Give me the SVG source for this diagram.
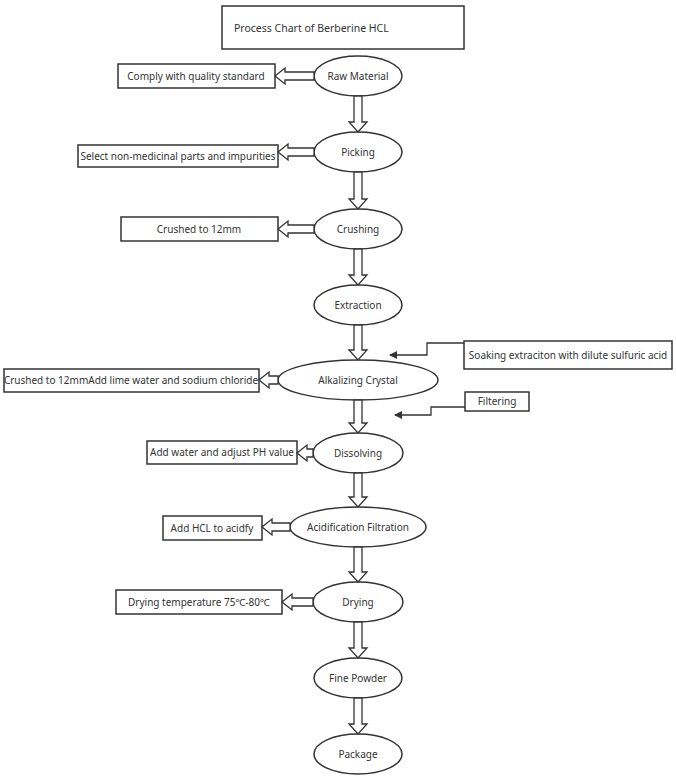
<svg xmlns="http://www.w3.org/2000/svg" width="676" height="779" viewBox="0 0 676 779">
<style>
text{font-family:"Noto Sans","Liberation Sans",sans-serif;font-size:10px;fill:#333}
.c{text-anchor:middle}
.n{fill:#fff;stroke:#333;stroke-width:1.5}
.a{fill:#fff;stroke:#333;stroke-width:1.3}
.l{fill:none;stroke:#333;stroke-width:1.3}
</style>
<defs><marker id="m" markerWidth="8" markerHeight="8" refX="7" refY="4" orient="auto" markerUnits="userSpaceOnUse"><path d="M0,0 L8,4 L0,8Z" fill="#333"/></marker></defs>
<rect width="676" height="779" fill="#fff"/>
<g id="title"><rect class="n" x="222" y="6" width="242" height="43"/><text x="234" y="32" style="font-size:10.5px">Process Chart of Berberine HCL</text></g>
<g id="raw"><ellipse class="n" cx="358" cy="76" rx="44" ry="20"/><text class="c" x="358" y="80">Raw Material</text></g>
<g id="n1"><rect class="n" x="118" y="64" width="157" height="24"/><text class="c" x="196" y="80">Comply with quality standard</text></g>
<g id="pick"><ellipse class="n" cx="358" cy="152" rx="44" ry="20"/><text class="c" x="358" y="156">Picking</text></g>
<g id="n2"><rect class="n" x="78" y="145" width="200" height="22"/><text class="c" x="178" y="160">Select non-medicinal parts and impurities</text></g>
<g id="crush"><ellipse class="n" cx="358" cy="229" rx="44" ry="20"/><text class="c" x="358" y="233">Crushing</text></g>
<g id="n3"><rect class="n" x="121" y="217" width="157" height="24"/><text class="c" x="199" y="233">Crushed to 12mm</text></g>
<g id="extr"><ellipse class="n" cx="358" cy="305" rx="44" ry="20"/><text class="c" x="358" y="309">Extraction</text></g>
<g id="alk"><ellipse class="n" cx="358" cy="380" rx="80" ry="20"/><text class="c" x="358" y="384">Alkalizing Crystal</text></g>
<g id="n4"><rect class="n" x="4" y="369" width="255" height="23"/><text class="c" x="131" y="384">Crushed to 12mmAdd lime water and sodium chloride</text></g>
<g id="soak"><rect class="n" x="464" y="341" width="208" height="28"/><text class="c" x="568" y="359">Soaking extraciton with dilute sulfuric acid</text></g>
<g id="filt"><rect class="n" x="465" y="392" width="64" height="19"/><text class="c" x="497" y="405">Filtering</text></g>
<g id="diss"><ellipse class="n" cx="358" cy="453" rx="45" ry="20"/><text class="c" x="358" y="457">Dissolving</text></g>
<g id="n5"><rect class="n" x="147" y="441" width="150" height="23"/><text class="c" x="222" y="456">Add water and adjust PH value</text></g>
<g id="acid"><ellipse class="n" cx="358" cy="527" rx="68" ry="20"/><text class="c" x="358" y="531">Acidification Filtration</text></g>
<g id="n6"><rect class="n" x="163" y="516" width="99" height="24"/><text class="c" x="212" y="532">Add HCL to acidfy</text></g>
<g id="dry"><ellipse class="n" cx="358" cy="602" rx="45" ry="20"/><text class="c" x="358" y="606">Drying</text></g>
<g id="n7"><rect class="n" x="116" y="590" width="166" height="24"/><text class="c" x="199" y="606">Drying temperature 75℃-80℃</text></g>
<g id="fine"><ellipse class="n" cx="358" cy="678" rx="44" ry="20"/><text class="c" x="358" y="682">Fine Powder</text></g>
<g id="pack"><ellipse class="n" cx="358" cy="754" rx="44" ry="20"/><text class="c" x="358" y="758">Package</text></g>
<g id="connectors">
<polygon class="a" points="354,96 362,96 362,122 367,122 358,132 349,122 354,122"/>
<polygon class="a" points="354,172 362,172 362,199 367,199 358,209 349,199 354,199"/>
<polygon class="a" points="354,249 362,249 362,275 367,275 358,285 349,275 354,275"/>
<polygon class="a" points="354,325 362,325 362,350 367,350 358,360 349,350 354,350"/>
<polygon class="a" points="354,400 362,400 362,423 367,423 358,433 349,423 354,423"/>
<polygon class="a" points="354,473 362,473 362,497 367,497 358,507 349,497 354,497"/>
<polygon class="a" points="354,547 362,547 362,572 367,572 358,582 349,572 354,572"/>
<polygon class="a" points="354,622 362,622 362,648 367,648 358,658 349,648 354,648"/>
<polygon class="a" points="354,698 362,698 362,724 367,724 358,734 349,724 354,724"/>
<polygon class="a" points="314,72 314,80 285,80 285,84 275,76 285,68 285,72"/>
<polygon class="a" points="314,148 314,156 288,156 288,160 278,152 288,144 288,148"/>
<polygon class="a" points="314,225 314,233 288,233 288,237 278,229 288,221 288,225"/>
<polygon class="a" points="278,376 278,384 269,384 269,388 259,380 269,372 269,376"/>
<polygon class="a" points="313,449 313,457 307,457 307,461 297,453 307,445 307,449"/>
<polygon class="a" points="290,523 290,531 272,531 272,535 262,527 272,519 272,523"/>
<polygon class="a" points="313,598 313,606 292,606 292,610 282,602 292,594 292,598"/>
<polyline class="l" points="464,343 427,343 427,355 390,355" marker-end="url(#m)"/>
<polyline class="l" points="465,407 431,407 431,415 395,415" marker-end="url(#m)"/>
</g>
</svg>
